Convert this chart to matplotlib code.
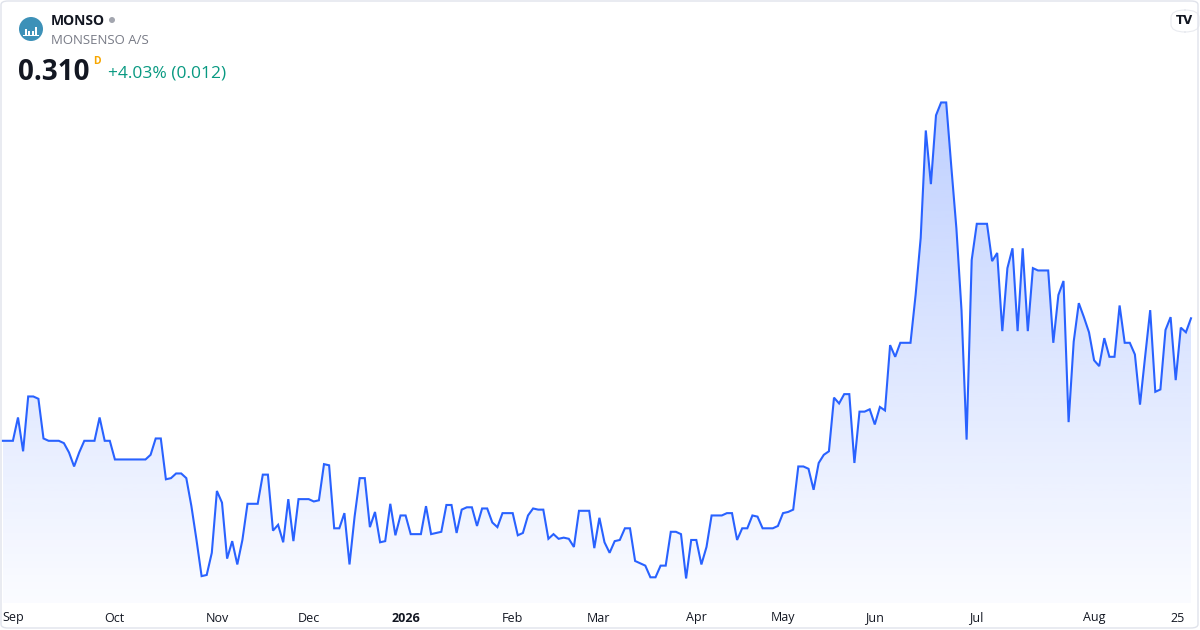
import numpy as np
import matplotlib
matplotlib.use("Agg")
import matplotlib.pyplot as plt
from matplotlib.patches import FancyBboxPatch, Ellipse, Rectangle

# ---- data (daily closes, MONSO) ----
prices = [
    0.205, 0.205, 0.205, 0.225, 0.196, 0.243, 0.243, 0.241, 0.207, 0.205,
    0.205, 0.205, 0.203, 0.195, 0.183, 0.195, 0.205, 0.205, 0.205, 0.225,
    0.205, 0.205, 0.189, 0.189, 0.189, 0.189, 0.189, 0.189, 0.189, 0.193,
    0.207, 0.207, 0.172, 0.173, 0.177, 0.177, 0.173, 0.149, 0.120, 0.089,
    0.090, 0.109, 0.162, 0.152, 0.104, 0.119, 0.099, 0.120, 0.151, 0.151,
    0.151, 0.176, 0.176, 0.128, 0.133, 0.118, 0.155, 0.119, 0.155, 0.155,
    0.155, 0.153, 0.154, 0.185, 0.184, 0.130, 0.130, 0.143, 0.099, 0.140,
    0.173, 0.173, 0.131, 0.144, 0.118, 0.119, 0.151, 0.124, 0.141, 0.141,
    0.125, 0.125, 0.125, 0.149, 0.125, 0.126, 0.127, 0.150, 0.150, 0.126,
    0.146, 0.148, 0.148, 0.132, 0.147, 0.147, 0.135, 0.131, 0.143, 0.143,
    0.143, 0.124, 0.126, 0.141, 0.147, 0.146, 0.146, 0.121, 0.125, 0.121,
    0.122, 0.121, 0.114, 0.145, 0.145, 0.145, 0.113, 0.139, 0.118, 0.109,
    0.119, 0.120, 0.130, 0.130, 0.102, 0.100, 0.098, 0.088, 0.088, 0.098,
    0.098, 0.127, 0.127, 0.125, 0.087, 0.120, 0.120, 0.099, 0.114, 0.141,
    0.141, 0.141, 0.143, 0.143, 0.120, 0.130, 0.130, 0.141, 0.140, 0.130,
    0.130, 0.130, 0.132, 0.143, 0.144, 0.146, 0.183, 0.183, 0.181, 0.163,
    0.186, 0.193, 0.196, 0.242, 0.237, 0.245, 0.245, 0.186, 0.230, 0.230,
    0.232, 0.219, 0.234, 0.231, 0.287, 0.277, 0.289, 0.289, 0.289, 0.330,
    0.379, 0.471, 0.425, 0.484, 0.495, 0.495, 0.440, 0.387, 0.317, 0.206,
    0.360, 0.391, 0.391, 0.391, 0.359, 0.366, 0.299, 0.353, 0.370, 0.299,
    0.370, 0.299, 0.353, 0.351, 0.351, 0.351, 0.289, 0.330, 0.342, 0.221,
    0.290, 0.323, 0.311, 0.298, 0.274, 0.269, 0.293, 0.277, 0.277, 0.321,
    0.289, 0.289, 0.279, 0.236, 0.277, 0.317, 0.247, 0.249, 0.300, 0.311,
    0.257, 0.302, 0.298, 0.310,
]
tick_labels = ["Sep", "Oct", "Nov", "Dec", "2026", "Feb", "Mar", "Apr",
               "May", "Jun", "Jul", "Aug", "25"]
tick_index = [2.0, 21.8, 42.0, 60.1, 79.1, 99.9, 116.9, 136.1,
              153.0, 171.0, 190.8, 214.0, 230.3]
symbol = "MONSO"
company = "MONSENSO A/S"
last_price = "0.310"
change_text = "+4.03% (0.012)"

W, H = 1200, 630
fig = plt.figure(figsize=(W / 100, H / 100), dpi=100)
fig.patch.set_facecolor("white")

# axes: full width, from pixel y=0 to y=603
ax = fig.add_axes([0, (H - 603) / H, 1, 603 / H])
ax.set_facecolor("none")
x = np.arange(len(prices))
y = np.array(prices)

px = 5.1  # px per bar
ax.set_xlim(-2.7 / px, (W - 2.7) / px)
k = 0.012 / 14.0
ax.set_ylim(0.310 - (603 - 318.3) * k, 0.310 + 318.3 * k)
ymin, ymax = ax.get_ylim()

# gradient fill under the line
blue = np.array([41, 98, 255]) / 255.0
grad_h = 256
top_v = max(prices)
alpha = np.linspace(0.30, 0.02, grad_h)[:, None]
img = np.zeros((grad_h, 1, 4))
img[..., 0] = blue[0]
img[..., 1] = blue[1]
img[..., 2] = blue[2]
img[..., 3] = alpha
poly = ax.fill_between(x, y, ymin, color="none", lw=0)
im = ax.imshow(img, aspect="auto", extent=[x[0], x[-1], ymin, top_v],
               origin="upper", zorder=1)
path = poly.get_paths()[0]
im.set_clip_path(path, transform=ax.transData)

ax.plot(x, y, color="#2962FF", lw=1.5, zorder=3, solid_joinstyle="miter")

ax.set_xticks([])
ax.set_yticks([])
for s in ax.spines.values():
    s.set_visible(False)

# x tick labels
for lbl, ti in zip(tick_labels, tick_index):
    xf = (2.7 + ti * px) / W
    fig.text(xf, 1 - 618 / H, lbl, ha="center", va="center",
             fontsize=9, color="#131722", family="Open Sans",
             fontweight="bold" if lbl == "2026" else "normal")

# header
fig.patches.append(Ellipse((31 / W, 1 - 29 / H), 24 / W, 24 / H,
                           transform=fig.transFigure,
                           facecolor="#3d91b8", edgecolor="none"))
# little bar icon in logo
for bx, bh in [(25.5, 6), (29, 4), (32.5, 4), (36, 8)]:
    fig.patches.append(Rectangle(((bx - 1) / W, 1 - 35 / H), 2 / W, bh / H,
                                 transform=fig.transFigure, facecolor="white",
                                 edgecolor="none"))
fig.patches.append(Rectangle((23 / W, 1 - 36 / H), 16 / W, 1.2 / H,
                             transform=fig.transFigure, facecolor="white",
                             edgecolor="none"))

fig.text(51 / W, 1 - 21 / H, symbol, ha="left", va="center", fontsize=10,
         fontweight="bold", color="#131722", family="Open Sans")
fig.patches.append(Ellipse((112 / W, 1 - 20 / H), 6 / W, 6 / H,
                           transform=fig.transFigure, facecolor="#a3a6af",
                           edgecolor="none"))
fig.text(51 / W, 1 - 40 / H, company, ha="left", va="center", fontsize=9.5,
         color="#787b86", family="Open Sans")
fig.text(18 / W, 1 - 73 / H, last_price, ha="left", va="center",
         fontsize=20, fontweight="bold", color="#131722", family="Open Sans")
fig.text(93 / W, 1 - 62 / H, "D", ha="left", va="center", fontsize=7.5,
         fontweight="bold", color="#f7a600", family="Open Sans")
fig.text(108 / W, 1 - 74 / H, change_text, ha="left", va="center",
         fontsize=12.5, color="#089981", family="Open Sans")

# TradingView badge
badge = FancyBboxPatch((1171 / W, 1 - 32 / H), 28 / W, 22 / H,
                       boxstyle="round,pad=0,rounding_size=0.012",
                       transform=fig.transFigure, facecolor="white",
                       edgecolor="#e9ebf0", lw=0.8)
fig.patches.append(badge)
fig.text(1185 / W, 1 - 21 / H, "TV", ha="center", va="center", fontsize=8.5,
         fontweight="heavy", color="#131722", family="DejaVu Sans")

# outer border
border = FancyBboxPatch((1 / W, 2 / H), (W - 3) / W, (H - 3) / H,
                        boxstyle="round,pad=0,rounding_size=0.006",
                        transform=fig.transFigure, facecolor="none",
                        edgecolor="#e0e3eb", lw=1.0)
fig.patches.append(border)

fig.savefig("out.png", dpi=100, facecolor="white")
